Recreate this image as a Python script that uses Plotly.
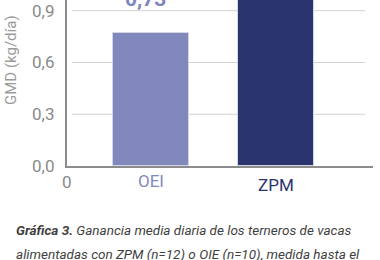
import plotly.graph_objects as go

categories = ["OEI", "ZPM"]
values = [0.77, 1.10]
value_labels = ["0,73", ""]
bar_colors = ["#8088bc", "#2a346e"]
label_colors = ["#8088bc", "#2a346e"]
y_ticks = [0.0, 0.3, 0.6, 0.9]
y_ticktext = ["0,0", "0,3", "0,6", "0,9"]

FONT = "Roboto, sans-serif"
GRAY = "#8a8a8a"

# plot area in pixels
plot_l, plot_r, plot_t, plot_b = 67, 373, 0, 166
W, H = 380, 260


def px_x(px):
    return (px - plot_l) / (plot_r - plot_l)


def px_y(py):
    return (plot_b - py) / (plot_b - plot_t)


fig = go.Figure()
fig.add_trace(go.Bar(
    x=categories, y=values, width=0.608,
    marker=dict(color=bar_colors, line=dict(color="#d4d6e4", width=1)),
    showlegend=False, hoverinfo="skip",
))

# gridlines (below bars) and tick labels
for v, t in zip(y_ticks, y_ticktext):
    if v > 0:
        fig.add_shape(type="line", xref="paper", yref="y", x0=px_x(72), x1=px_x(365), y0=v, y1=v,
                      line=dict(color="#d2d2d2", width=1), layer="below")
    fig.add_annotation(x=px_x(56), xref="paper", y=v, yref="y", text=t, showarrow=False,
                       xanchor="right", yanchor="middle",
                       font=dict(family=FONT, size=17, color=GRAY))

# value label above OEI bar (top of chart, partially cropped)
fig.add_annotation(x=categories[0], xref="x", y=px_y(-1), yref="paper",
                   text="<b>" + value_labels[0] + "</b>",
                   showarrow=False, xanchor="center", yanchor="middle", xshift=-6,
                   font=dict(family=FONT, size=21, color="#7f86bd"))

# category labels
for cat, col, yc in zip(categories, label_colors, [181, 185.5]):
    fig.add_annotation(x=cat, xref="x", y=px_y(yc), yref="paper", text=cat, showarrow=False,
                       xanchor="center", yanchor="middle",
                       font=dict(family=FONT, size=17, color=col))
fig.add_annotation(x=px_x(67), xref="paper", y=px_y(182), yref="paper", text="0", showarrow=False,
                   xanchor="center", yanchor="middle", font=dict(family=FONT, size=17, color=GRAY))

# y-axis title
fig.add_annotation(x=px_x(11), y=px_y(60), xref="paper", yref="paper", text="GMD (kg/día)",
                   showarrow=False, xanchor="center", yanchor="middle",
                   textangle=-90, font=dict(family=FONT, size=15, color="#9a9a9a"))

# caption
fig.add_annotation(x=px_x(14), y=px_y(230), xref="paper", yref="paper", xanchor="left", yanchor="middle",
                   text="<b><i>Gráfica 3.</i></b><i> Ganancia media diaria de los terneros de vacas</i>",
                   showarrow=False, font=dict(family=FONT, size=13.5, color="#3f3f3f"))
fig.add_annotation(x=px_x(14), y=px_y(254), xref="paper", yref="paper", xanchor="left", yanchor="middle",
                   text="<i>alimentadas con ZPM (n=12) o OIE (n=10), medida hasta el</i>",
                   showarrow=False, font=dict(family=FONT, size=13.5, color="#3f3f3f"))

fig.update_layout(
    width=W, height=H,
    margin=dict(l=plot_l, r=W - plot_r, t=plot_t, b=H - plot_b),
    paper_bgcolor="white", plot_bgcolor="white",
    bargap=0,
    xaxis=dict(range=[-0.674, 1.774], showticklabels=False, showgrid=False,
               showline=True, linecolor="#8c8c8c", linewidth=1.5, ticks="", zeroline=False,
               fixedrange=True),
    yaxis=dict(range=[0, 0.962], showticklabels=False, showgrid=False, zeroline=False,
               showline=True, linecolor="#8c8c8c", linewidth=1.5, ticks="", fixedrange=True),
)

fig.write_html("out.html")
